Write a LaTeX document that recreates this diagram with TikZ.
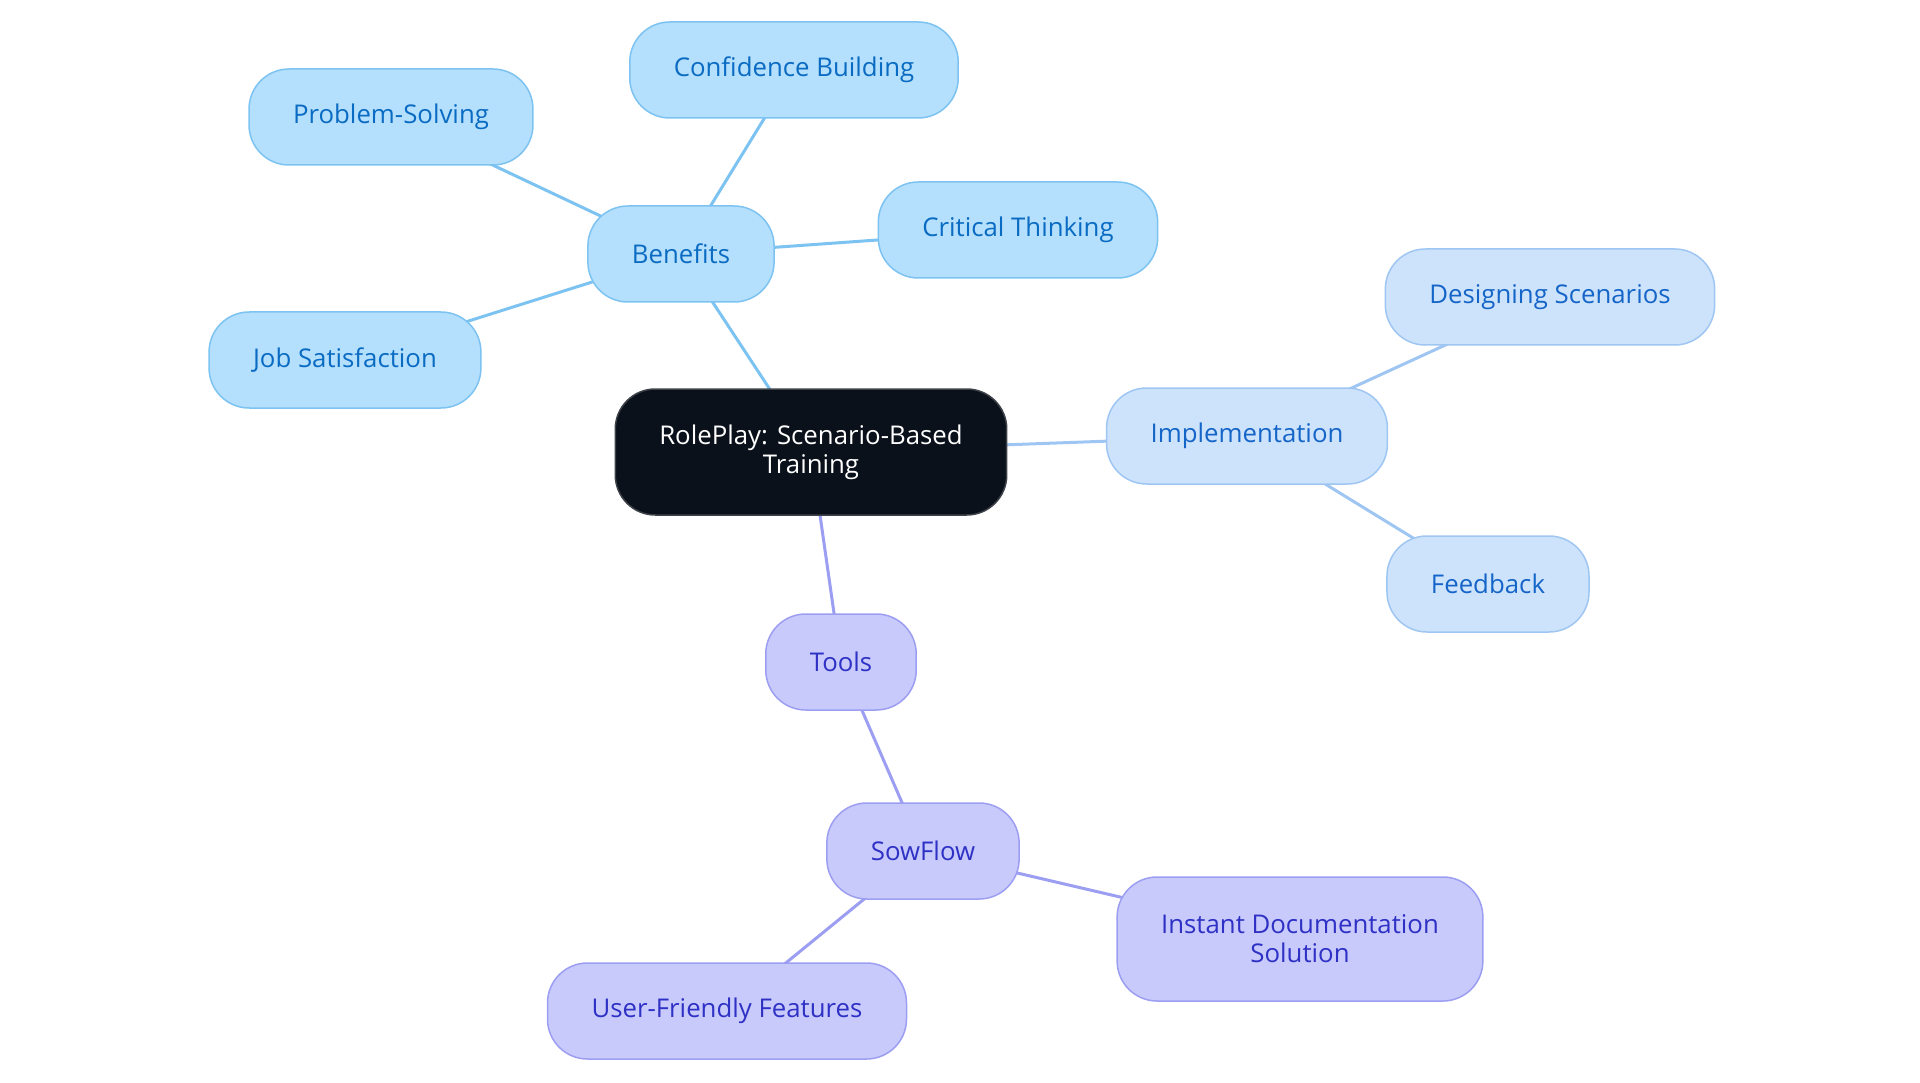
\documentclass[tikz,border=0pt]{standalone}
\usepackage{fontspec}
\setmainfont{Open Sans}
\usepackage{tikz}
\usetikzlibrary{backgrounds}
\definecolor{rootfill}{HTML}{0B111B}
\definecolor{rootline}{HTML}{3E434A}
\definecolor{benfill}{HTML}{B4DFFD}
\definecolor{benline}{HTML}{7DC3F2}
\definecolor{bentext}{HTML}{0A6BC2}
\definecolor{impfill}{HTML}{CDE3FB}
\definecolor{impline}{HTML}{9FC6F2}
\definecolor{imptext}{HTML}{1565C8}
\definecolor{toolfill}{HTML}{C8CAFC}
\definecolor{toolline}{HTML}{9C9EF2}
\definecolor{tooltext}{HTML}{2E31C4}
\begin{document}
\begin{tikzpicture}[x=1pt,y=-1pt,
    mm/.style={rounded corners=40pt,line width=1.5pt,inner xsep=44pt,
      minimum height=96pt,align=center,
      font=\fontsize{25.8}{29}\selectfont},
    root/.style={mm,fill=rootfill,draw=rootline,text=white,minimum height=126pt},
    ben/.style={mm,fill=benfill,draw=benline,text=bentext},
    imp/.style={mm,fill=impfill,draw=impline,text=imptext},
    tool/.style={mm,fill=toolfill,draw=toolline,text=tooltext},
    benedge/.style={line width=3pt,benline},
    impedge/.style={line width=3pt,impline},
    tooledge/.style={line width=3pt,toolline}]
    \useasboundingbox (0,0) rectangle (1920,1083);
    % nodes
    \node[root] (rp) at (811,452) {RolePlay: Scenario-Based\\Training};
    \node[ben] (ben) at (681,254) {Benefits};
    \node[ben] (conf) at (794,70) {Confidence Building};
    \node[ben] (prob) at (391,117) {Problem-Solving};
    \node[ben] (crit) at (1018,230) {Critical Thinking};
    \node[ben] (job) at (345,360) {Job Satisfaction};
    \node[imp] (impl) at (1247,436) {Implementation};
    \node[imp] (des) at (1550,297) {Designing Scenarios};
    \node[imp] (feed) at (1488,584) {Feedback};
    \node[tool] (tools) at (841,662) {Tools};
    \node[tool] (sow) at (923,851) {SowFlow};
    \node[tool,minimum height=124pt] (inst) at (1300,939) {Instant Documentation\\Solution};
    \node[tool] (user) at (727,1011) {User-Friendly Features};
    % edges, behind the nodes
    \begin{scope}[on background layer]
    \draw[benedge] (rp.center) -- (ben.center);
    \draw[benedge] (ben.center) -- (conf.center);
    \draw[benedge] (ben.center) -- (prob.center);
    \draw[benedge] (ben.center) -- (crit.center);
    \draw[benedge] (ben.center) -- (job.center);
    \draw[impedge] (rp.center) -- (impl.center);
    \draw[impedge] (impl.center) -- (des.center);
    \draw[impedge] (impl.center) -- (feed.center);
    \draw[tooledge] (rp.center) -- (tools.center);
    \draw[tooledge] (tools.center) -- (sow.center);
    \draw[tooledge] (sow.center) -- (inst.center);
    \draw[tooledge] (sow.center) -- (user.center);
    \end{scope}
\end{tikzpicture}
\end{document}
